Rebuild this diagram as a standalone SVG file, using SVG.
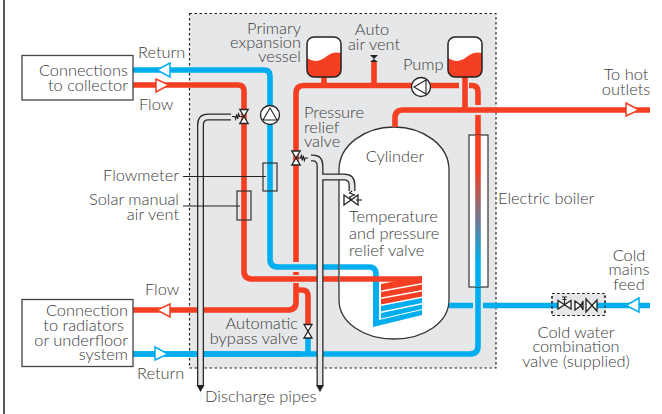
<svg xmlns="http://www.w3.org/2000/svg" width="662" height="414" viewBox="0 0 662 414">
<style>
text{font-family:"Lato","Liberation Sans",sans-serif;font-size:16.4px;font-weight:300;fill:#3c3c3c}
.e{text-anchor:end}.m{text-anchor:middle}
.r{fill:none;stroke:#f43f23;stroke-width:5.6}
.b{fill:none;stroke:#00aeef;stroke-width:5.6}
.ar{fill:#fff;stroke:#f43f23;stroke-width:1.5}
.ab{fill:#fff;stroke:#00aeef;stroke-width:1.5}
.k{fill:none;stroke:#222;stroke-width:1.1}
.v{fill:#fff;stroke:#222;stroke-width:1.3}
.box{fill:#fff;stroke:#444;stroke-width:1.3}
.po{fill:none;stroke:#2a2a2a;stroke-width:7}
.pi{fill:none;stroke:#e6e7e8;stroke-width:4.4}
</style>
<defs>
<linearGradient id="g" gradientUnits="userSpaceOnUse" x1="0" y1="170" x2="0" y2="262"><stop offset="0" stop-color="#f43f23"/><stop offset="1" stop-color="#00aeef"/></linearGradient>
<g id="valve"><path class="k" d="M0 0H-4.500L-5.300 -2.500L-6.300 2.500L-7.300 -2.500L-8.300 2.500L-9.300 0H-12"/><path class="v" d="M-4.200 -7H4.200L-4.200 7H4.200Z"/></g>
<g id="vessel"><rect width="34" height="40" rx="7" fill="#fff"/><path fill="#f43f23" d="M0 21C8 26 14 24 20 19C25 15 30 15 34 16V33a7 7 0 0 1-7 7H7a7 7 0 0 1-7-7Z"/><rect width="34" height="40" rx="7" fill="none" stroke="#222" stroke-width="1.5"/></g>
</defs>
<path d="M4 0V414" stroke="#555" stroke-width="2" fill="none"/>
<rect id="cabinet" x="189.500" y="13.500" width="306.500" height="354.500" fill="#e6e7e8" stroke="#222" stroke-width="1.200" stroke-dasharray="2.500 2.500"/>
<g id="connectors">
<path class="r" d="M133 85H238Q244 85 244 91V271Q244 279 252 279H422"/>
<path class="b" d="M133 70H264Q270 70 270 76V259Q270 267 278 267H345"/>
<path class="r" d="M459 85.500H304Q296 85.500 296 93.500V262M296 272V275M296 283V302Q296 310 288 310H133"/>
<path class="r" d="M324 76V85M374 62V85"/>
<path class="r" d="M298 290H302Q308 290 308 296V326"/>
<path class="b" d="M308 354V336"/>
<path class="r" d="M465 76V110M469 85.500H472Q478 85.500 478 92V105"/>
<path fill="none" stroke="url(#g)" stroke-width="5.600" d="M133 354H470Q478 354 478 346V115"/>
<path class="b" d="M133 354H300"/>
</g>
<g id="cylinder"><path d="M339 300V170C339 145 365 127 394 127C423 127 449 145 449 170V300C449 322 425 339 394 339C363 339 339 322 339 300Z" fill="#fff" stroke="#333" stroke-width="1.300"/></g>
<g id="coil">
<path class="b" d="M340 267H369Q376 267 376 274V283"/>
<path fill="#00aeef" d="M373 283H379V320L422 310V315L373 327Z"/>
<path class="r" d="M340 279H422"/>
<path fill="#f43f23" d="M381 284L422 276V283L381 290.500ZM381 292L422 284.500V290L381 297.500ZM381 299L422 291.500V296.500L381 304.500Z"/>
<path fill="#00aeef" d="M381 306L422 298V303L381 311.500ZM381 313L422 304.500V309L381 318.500Z"/>
</g>
<g id="hot-outlet">
<path class="r" d="M650 110H403Q395 110 395 118V127"/>
<polygon class="ar" points="626,103 639,110 626,116"/>
<text x="626" y="80" class="m">To hot</text><text x="626" y="95" class="m">outlets</text>
</g>
<g id="electric-boiler">
<rect x="469" y="135" width="19" height="152" fill="#fff" stroke="#333" stroke-width="1.200"/>
<path fill="none" stroke="url(#g)" stroke-width="5.600" d="M478 287V135"/>
<text x="498" y="204">Electric boiler</text>
</g>
<g id="cold-feed">
<path class="b" d="M449 305.500H473M483 305.500H552"/>
<rect x="552" y="293.500" width="53" height="22" fill="#e6e7e8" stroke="#222" stroke-width="1.200" stroke-dasharray="2.500 2.500"/>
<path class="b" d="M552 305.500H558M597 305.500H650"/>
<rect x="552" y="293.500" width="53" height="22" fill="none" stroke="#222" stroke-width="1.200" stroke-dasharray="2.500 2.500"/>
<path class="v" d="M558 300.500L571 309V300.500L558 309Z"/>
<path class="k" d="M564.500 305V297M562 297H567M562.500 299.500H566.500"/>
<path class="v" d="M575 301L581 305.500L575 310ZM583 301V310L581 305.500Z"/>
<path class="v" d="M586 299V312L597 300V311Z"/>
<polygon class="ab" points="639,298 626,305.500 639,312"/>
<text x="629" y="261" class="m">Cold</text><text x="629" y="275" class="m">mains</text><text x="629" y="290" class="m">feed</text>
<text x="576" y="338" class="m">Cold water</text><text x="576" y="352" class="m">combination</text><text x="576" y="367" class="m">valve (supplied)</text>
</g>
<g id="discharge-pipes">
<path class="po" d="M231 117H208Q200.500 117 200.500 125V385"/>
<path class="pi" d="M231 117H208Q200.500 117 200.500 125V385"/>
<path class="po" d="M311 158H313Q320 158 320 166V385"/>
<path class="pi" d="M311 158H313Q320 158 320 166V385"/>
<path class="po" d="M323 177H344Q352 177 352 185V191"/>
<path class="pi" d="M318 177H344Q352 177 352 185V191"/>
<polygon fill="#222" points="196.500,385 204.500,385 200.500,392"/>
<polygon fill="#222" points="316,385 324,385 320,392"/>
<text x="205" y="402">Discharge pipes</text>
</g>
<g id="connections-collector">
<rect class="box" x="22" y="55.500" width="111" height="44.500"/>
<text x="128" y="76" class="e">Connections</text><text x="128" y="91" class="e">to collector</text>
<polygon class="ab" points="170,63 157,70 170,77"/>
<polygon class="ar" points="156,79 169,85 156,92"/>
<text x="138" y="58">Return</text><text x="139" y="110">Flow</text>
</g>
<g id="connection-radiators">
<rect class="box" x="22" y="299.500" width="111" height="67"/>
<text x="128" y="316" class="e">Connection</text><text x="124" y="331" class="e">to radiators</text><text x="128" y="346" class="e">or underfloor</text><text x="128" y="360" class="e">system</text>
<polygon class="ar" points="170,304 157,310 170,317"/>
<polygon class="ab" points="155,347 168,354 155,360"/>
<text x="145" y="295">Flow</text><text x="137" y="379">Return</text>
</g>
<g id="primary-expansion-vessel"><use href="#vessel" x="307" y="37"/>
<text x="301" y="34" class="e">Primary</text><text x="301" y="48" class="e">expansion</text><text x="301" y="62" class="e">vessel</text></g>
<g id="secondary-vessel"><use href="#vessel" x="448" y="37"/></g>
<g id="auto-air-vent">
<path fill="#222" d="M370 55H378L374 59L378 62H370L374 59Z"/>
<text x="372" y="35" class="m">Auto</text><text x="374" y="50" class="m">air vent</text></g>
<g id="pump-top"><circle class="v" cx="421" cy="87" r="9.500"/><path class="k" d="M414 87L426 80V94Z"/><text x="403" y="70">Pump</text></g>
<g id="pump-solar"><circle class="v" cx="270" cy="115" r="9.500"/><path class="k" d="M270 108L277 120H263Z"/></g>
<g id="flowmeter"><rect x="263" y="163" width="14" height="28" fill="none" stroke="#333" stroke-width="1.200"/><path class="k" d="M183 176.500H266"/><text x="179" y="181" class="e">Flowmeter</text></g>
<g id="solar-manual-air-vent"><rect x="237" y="191" width="14" height="29" fill="none" stroke="#333" stroke-width="1.200"/><path class="k" d="M183 206H240"/><use href="#valve" x="244" y="116.500"/><text x="179" y="205" class="e">Solar manual</text><text x="179" y="220" class="e">air vent</text></g>
<g id="pressure-relief-valve"><use href="#valve" transform="translate(296 158) scale(-1 1)"/><text x="304" y="118">Pressure</text><text x="304" y="133">relief</text><text x="304" y="147">valve</text></g>
<g id="temperature-pressure-relief-valve">
<path class="k" d="M352 191L349.500 193L354.500 195L349.500 197L352 200"/>
<path class="v" d="M344 195V205L358 195V205Z"/><path class="k" d="M356 200H362"/>
<text x="349" y="222">Temperature</text><text x="349" y="239">and pressure</text><text x="349" y="256">relief valve</text></g>
<g id="bypass-valve"><path class="v" d="M304 324.500H312L304 338H312Z"/><text x="298" y="329" class="e">Automatic</text><text x="298" y="344" class="e">bypass valve</text></g>
<g id="cylinder-label"><text x="395" y="162" class="m">Cylinder</text></g>
</svg>
